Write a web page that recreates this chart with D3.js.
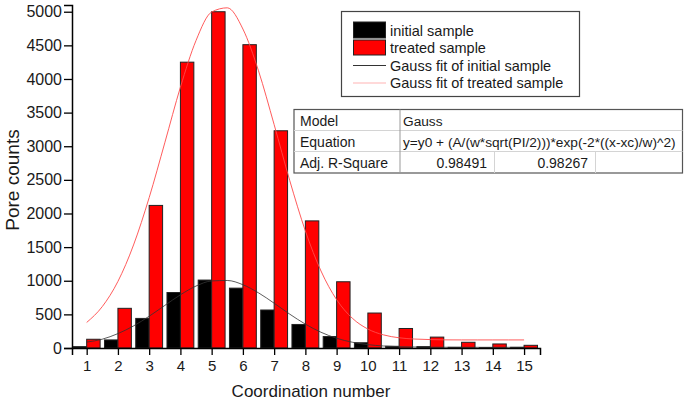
<!DOCTYPE html>
<html><head><meta charset="utf-8">
<script src="https://cdn.jsdelivr.net/npm/d3@7"></script>
<style>body{margin:0;background:#fff}svg{display:block}text{font-family:"Liberation Sans",Arial,sans-serif;fill:#1a1a1a}</style>
</head><body><svg id="c" width="685" height="407"></svg>
<script>
const categories = [1,2,3,4,5,6,7,8,9,10,11,12,13,14,15];
const initialSample = [20,120,440,825,1010,890,565,350,170,78,25,20,10,5,10];
const treatedSample = [130,590,2120,4250,5000,4510,3230,1890,985,520,290,162,85,60,40];
const fitX = [1,1.5,2,2.5,3,3.5,4,4.5,5,5.5,6,6.5,7,7.5,8,8.5,9,9.5,10,10.5,11,11.5,12,12.5,13,13.5,14,14.5,15];
const fitInitial = [88,131,214,328,472,633,791,921,997,1004,941,820,666,503,355,234,145,86,50,30,20,15,12,11,10,10,10,10,10];
const fitTreated = [380,616,990,1532,2236,3051,3878,4572,4996,5058,4743,4121,3322,2489,1740,1145,719,444,282,195,152,133,125,121,120,120,120,120,120];
const yTicks = [0,500,1000,1500,2000,2500,3000,3500,4000,4500,5000];
const legendLabels = ["initial sample","treated sample","Gauss fit of initial sample","Gauss fit of treated sample"];
const tableRows = [["Model","Gauss"],["Equation","y=y0 + (A/(w*sqrt(PI/2)))*exp(-2*((x-xc)/w)^2)"],["Adj. R-Square","0.98491","0.98267"]];

const svg = d3.select("#c");
const x = d3.scaleLinear().domain([0.53,15.51]).range([72,540]);
const y = d3.scaleLinear().domain([0,5100]).range([348,5]);
const bw = 0.43;

// bars
const g = svg.append("g");
g.selectAll("rect.i").data(categories).join("rect")
  .attr("x", (d)=>x(d-bw)).attr("width", (d)=>x(d)-x(d-bw))
  .attr("y", (d,i)=>y(initialSample[i])).attr("height",(d,i)=>y(0)-y(initialSample[i]))
  .attr("fill","#000").attr("stroke","#222").attr("stroke-width",1);
g.selectAll("rect.t").data(categories).join("rect")
  .attr("x", (d)=>x(d)).attr("width", (d)=>x(d+bw)-x(d))
  .attr("y", (d,i)=>y(treatedSample[i])).attr("height",(d,i)=>y(0)-y(treatedSample[i]))
  .attr("fill","#ff0000").attr("stroke","#222").attr("stroke-width",1);

// fit curves
const line = (vals)=>d3.line().x((d,i)=>x(fitX[i])).y((d)=>y(d)).curve(d3.curveMonotoneX)(vals);
svg.append("path").attr("d",line(fitTreated)).attr("fill","none").attr("stroke","#ff4a4a").attr("stroke-width",0.9);
svg.append("path").attr("d",line(fitInitial)).attr("fill","none").attr("stroke","#333").attr("stroke-width",0.8);

// axes
const ya = svg.append("g").attr("transform","translate(72,0)")
  .call(d3.axisLeft(y).tickValues(yTicks).tickSize(8).tickPadding(2).tickFormat(d3.format("d")));
const xa = svg.append("g").attr("transform","translate(0,348)")
  .call(d3.axisBottom(x).tickValues(categories).tickSize(7).tickPadding(5).tickFormat(d3.format("d")));
[ya,xa].forEach(a=>{a.select(".domain").attr("stroke","#000").attr("stroke-width",1.5);
  a.selectAll(".tick line").attr("stroke","#000").attr("stroke-width",1.3);
  a.selectAll(".tick text").attr("fill","#1a1a1a").style("font-family","Liberation Sans, Arial, sans-serif");});
ya.selectAll(".tick text").style("font-size","16px");
xa.selectAll(".tick text").style("font-size","15px");

svg.append("text").attr("transform","translate(19,180) rotate(-90)").attr("text-anchor","middle")
  .style("font-size","19px").text("Pore counts");
svg.append("text").attr("x",311).attr("y",397).attr("text-anchor","middle")
  .style("font-size","17px").text("Coordination number");

// legend
const lg = svg.append("g");
lg.append("rect").attr("x",341.5).attr("y",11.5).attr("width",238).attr("height",85)
  .attr("fill","#fff").attr("stroke","#444").attr("stroke-width",1.2);
const rowY = [30.5,48,65.5,83];
lg.append("rect").attr("x",353.5).attr("y",22).attr("width",32).attr("height",16).attr("fill","#000").attr("stroke","#222");
lg.append("rect").attr("x",353.5).attr("y",40).attr("width",32).attr("height",15).attr("fill","#ff0000").attr("stroke","#222");
lg.append("line").attr("x1",353).attr("x2",386).attr("y1",rowY[2]).attr("y2",rowY[2]).attr("stroke","#333").attr("stroke-width",1);
lg.append("line").attr("x1",353).attr("x2",386).attr("y1",rowY[3]).attr("y2",rowY[3]).attr("stroke","#ffb3b3").attr("stroke-width",1);
lg.selectAll("text").data(legendLabels).join("text")
  .attr("x",390).attr("y",(d,i)=>rowY[i]+5).style("font-size","14.5px").text(d=>d);

// table
const tg = svg.append("g");
const tx0=294, tx1=682.5, ty=[109.5,130.5,151.5,173];
tg.append("rect").attr("x",tx0).attr("y",ty[0]).attr("width",tx1-tx0).attr("height",ty[3]-ty[0])
  .attr("fill","#fff").attr("stroke","#555").attr("stroke-width",1.2);
[ty[1],ty[2]].forEach(v=>tg.append("line").attr("x1",tx0).attr("x2",tx1).attr("y1",v).attr("y2",v).attr("stroke","#d4d4d4"));
tg.append("line").attr("x1",400).attr("x2",400).attr("y1",ty[0]).attr("y2",ty[3]).attr("stroke","#999");
[494.5,595.5].forEach(v=>tg.append("line").attr("x1",v).attr("x2",v).attr("y1",ty[2]).attr("y2",ty[3]).attr("stroke","#d4d4d4"));
tableRows.forEach((r,i)=>{
  const by = ty[i]+16;
  tg.append("text").attr("x",300).attr("y",by).style("font-size","14px").text(r[0]);
  if(i<2){tg.append("text").attr("x",403).attr("y",by).style("font-size","13.7px").text(r[1]);}
  else{
    tg.append("text").attr("x",487).attr("y",by).attr("text-anchor","end").style("font-size","14px").text(r[1]);
    tg.append("text").attr("x",588).attr("y",by).attr("text-anchor","end").style("font-size","14px").text(r[2]);
  }
});
</script></body></html>
